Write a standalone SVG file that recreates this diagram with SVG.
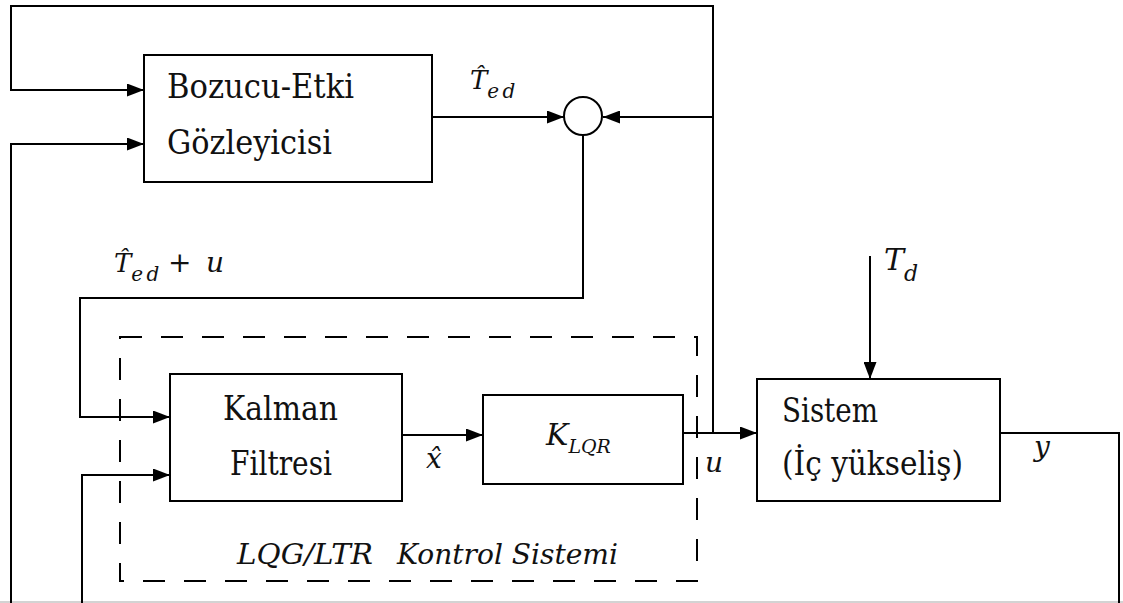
<svg xmlns="http://www.w3.org/2000/svg" width="1123" height="603" viewBox="0 0 1123 603">
<style>
.box{fill:#fff;stroke:#000;stroke-width:2}
.ln{fill:none;stroke:#000;stroke-width:2}
.dash{fill:none;stroke:#000;stroke-width:2;stroke-dasharray:22 19}
.t{font-family:"DejaVu Serif","Liberation Serif",serif;font-size:33px;fill:#111}
.m{font-family:"DejaVu Serif","Liberation Serif",serif;font-style:italic;fill:#111}
</style>
<defs>
<marker id="ah" markerUnits="userSpaceOnUse" markerWidth="17" markerHeight="13" refX="17" refY="6.5" orient="auto">
<path d="M0,0 L17,6.5 L0,13 z" fill="#000"/>
</marker>
</defs>
<rect width="1123" height="603" fill="#fff"/>
<line x1="0" y1="602" x2="1123" y2="602" stroke="#c4c4c4" stroke-width="1.5"/>
<g id="lqg-frame">
<rect class="dash" x="120" y="337" width="577" height="244"/>
<text class="m" font-size="27" x="237" y="564" textLength="136" lengthAdjust="spacingAndGlyphs">LQG/LTR</text>
<text class="m" font-size="27" x="397" y="564" textLength="221" lengthAdjust="spacingAndGlyphs">Kontrol Sistemi</text>
</g>
<g id="connectors">
<path class="ln" d="M713,433 V6 H11 V90 H144" marker-end="url(#ah)"/>
<path class="ln" d="M713,117 H603" marker-end="url(#ah)"/>
<path class="ln" d="M432,117 H564" marker-end="url(#ah)"/>
<path class="ln" d="M583,135 V298 H80 V417 H170" marker-end="url(#ah)"/>
<path class="ln" d="M402,435 H483" marker-end="url(#ah)"/>
<path class="ln" d="M683,433 H757" marker-end="url(#ah)"/>
<path class="ln" d="M870,256 V379" marker-end="url(#ah)"/>
<path class="ln" d="M1000,433 H1119 V603"/>
<path class="ln" d="M82,603 V475 H170" marker-end="url(#ah)"/>
<path class="ln" d="M11,603 V144 H144" marker-end="url(#ah)"/>
</g>
<g id="bozucu">
<rect class="box" x="144" y="55" width="288" height="127"/>
<text class="t" x="167" y="98" textLength="187" lengthAdjust="spacingAndGlyphs">Bozucu-Etki</text>
<text class="t" x="167" y="154" textLength="165" lengthAdjust="spacingAndGlyphs">Gözleyicisi</text>
</g>
<g id="sum">
<circle cx="583" cy="116" r="19" fill="#fff" stroke="#000" stroke-width="2"/>
</g>
<g id="kalman">
<rect class="box" x="170" y="374" width="232" height="127"/>
<text class="t" x="223" y="420" textLength="115" lengthAdjust="spacingAndGlyphs">Kalman</text>
<text class="t" x="230" y="475" textLength="102" lengthAdjust="spacingAndGlyphs">Filtresi</text>
</g>
<g id="klqr">
<rect class="box" x="483" y="395" width="200" height="89"/>
<text class="m" font-size="30" x="546" y="445">K<tspan font-size="19" dy="8">LQR</tspan></text>
</g>
<g id="sistem">
<rect class="box" x="757" y="379" width="243" height="122"/>
<text class="t" x="782" y="422" textLength="96" lengthAdjust="spacingAndGlyphs">Sistem</text>
<text class="t" x="782" y="475" textLength="181" lengthAdjust="spacingAndGlyphs">(İç yükseliş)</text>
</g>
<g id="labels">
<text class="m" font-size="26" x="470" y="89">T̂<tspan font-size="20" dy="9" textLength="28" lengthAdjust="spacing">ed</tspan></text>
<text class="m" font-size="26" x="114" y="272">T̂<tspan font-size="20" dy="9" textLength="28" lengthAdjust="spacing">ed</tspan><tspan x="168" dy="-9" font-style="normal" font-size="28">+</tspan><tspan x="206" font-size="28">u</tspan></text>
<text class="m" font-size="28" x="426" y="468" font-style="normal">x̂</text>
<text class="m" font-size="28" x="705" y="472">u</text>
<text class="m" font-size="30" x="884" y="270">T<tspan font-size="22" dy="11">d</tspan></text>
<text class="m" font-size="28" x="1034" y="456">y</text>
</g>
</svg>
